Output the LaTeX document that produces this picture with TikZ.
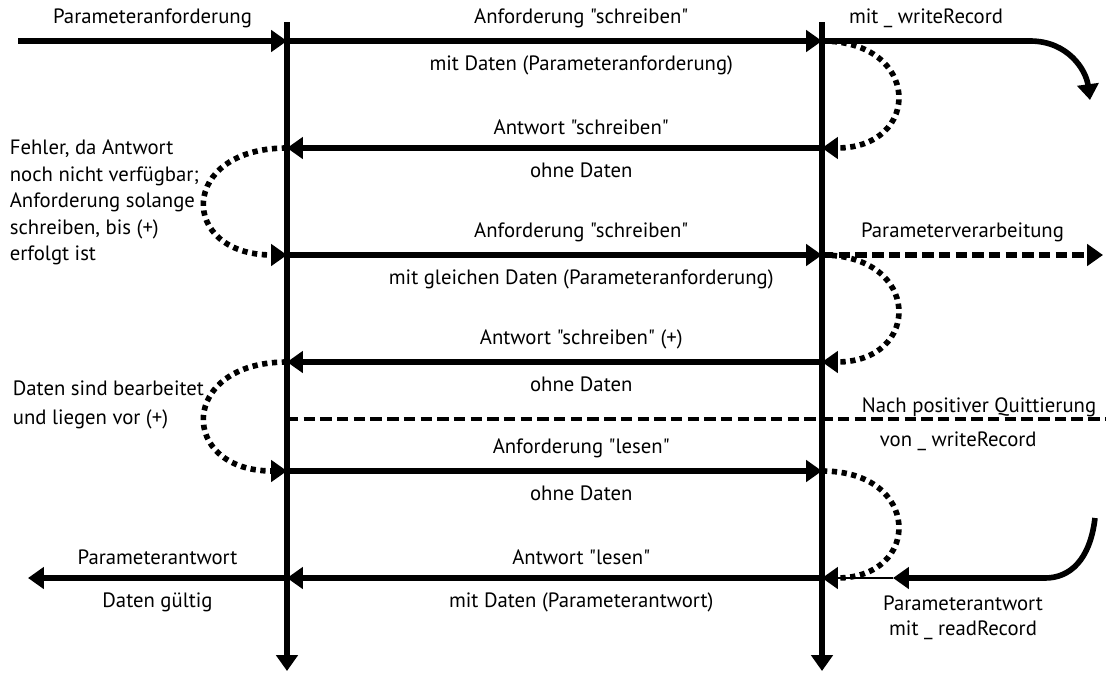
\documentclass[tikz,border=0pt]{standalone}
\usepackage{fontspec}
\setmainfont{PT Sans}[Ligatures=TeXOff]
\usetikzlibrary{arrows.meta}

\begin{document}
\begin{tikzpicture}[
  x=0.02cm, y=-0.02cm,
  txt/.style={font=\fontsize{11.8}{14}\selectfont, inner sep=2pt},
  msg/.style={-{Triangle[length=9pt,width=12pt]}, line width=3.2pt},
  loopback/.style={msg, dash pattern=on 3pt off 2.6pt},
  dashline/.style={line width=2.8pt, dash pattern=on 6.5pt off 3pt},
  up/.style={txt, above=4pt},
  down/.style={txt, below=5pt}
]
  \useasboundingbox (0,0) rectangle (1106,673);

  % lifelines
  \coordinate (ltop) at (287,22);
  \coordinate (lbot) at (287,671);
  \coordinate (rtop) at (822,22);
  \coordinate (rbot) at (822,671);
  \draw[msg] (ltop) -- (lbot);
  \draw[msg] (rtop) -- (rbot);

  % message levels
  \foreach \n/\y in {1/41,2/148,3/255,4/362,5/471,6/578}{
    \coordinate (l\n) at (287,\y);
    \coordinate (r\n) at (822,\y);
  }

  % request in
  \coordinate (in) at (18,41);
  \draw[msg] (in) -- node[up]{Parameteranforderung} (l1);

  % messages
  \draw[msg] (l1) -- node[up, pos=.55]{Anforderung "schreiben"}
                     node[down, pos=.55]{mit Daten (Parameteranforderung)} (r1);
  \draw[msg] (r2) -- node[up, pos=.45]{Antwort "schreiben"}
                     node[down, pos=.45]{ohne Daten} (l2);
  \draw[msg] (l3) -- node[up, pos=.55]{Anforderung "schreiben"}
                     node[down, pos=.55]{mit gleichen Daten (Parameteranforderung)} (r3);
  \draw[msg] (r4) -- node[up, pos=.45]{Antwort "schreiben" (+)}
                     node[down, pos=.45]{ohne Daten} (l4);
  \draw[msg] (l5) -- node[up, pos=.55]{Anforderung "lesen"}
                     node[down, pos=.55]{ohne Daten} (r5);
  \draw[msg] (r6) -- node[up, pos=.45]{Antwort "lesen"}
                     node[down, pos=.45]{mit Daten (Parameterantwort)} (l6);

  % answer out
  \coordinate (out) at (28,578);
  \draw[msg] (l6) -- node[up]{Parameterantwort} node[down]{Daten gültig} (out);

  % loops
  \draw[loopback] (r1) .. controls (922,41) and (922,148) .. (r2);
  \draw[loopback] (l2) .. controls (178,148) and (178,255) .. (l3);
  \draw[loopback] (r3) .. controls (922,255) and (922,362) .. (r4);
  \draw[loopback] (l4) .. controls (178,362) and (178,471) .. (l5);
  \draw[loopback] (r5) .. controls (922,471) and (922,578) .. (r6);

  % writeRecord
  \coordinate (wr) at (1030,41);
  \coordinate (wrend) at (1090,100);
  \draw[msg] (r1) -- node[up]{mit \_ writeRecord} (wr)
    .. controls (1068,41) and (1086,70) .. (wrend);

  % processing
  \coordinate (pv) at (1103,255);
  \draw[msg, dash pattern=on 6.5pt off 3pt] (r3) -- node[up]{Parameterverarbeitung} (pv);

  % acknowledgement
  \coordinate (lq) at (287,419);
  \coordinate (rq) at (1106,419);
  \draw[dashline] (lq) -- (rq);
  \node[txt, anchor=west] (ack) at (858,407) {Nach positiver Quittierung};
  \node[txt, anchor=west] (ackrec) at (876,441) {von \_ writeRecord};

  % readRecord
  \coordinate (rr) at (1095,518);
  \coordinate (rrk) at (1045,578);
  \coordinate (rrtip) at (893,578);
  \draw[msg] (rr) .. controls (1090,560) and (1070,578) .. (rrk) -- (rrtip);
  \draw[line width=1.6pt] (rrtip) -- (r6);
  \node[txt, align=center, font=\fontsize{11.8}{14.2}\selectfont] (readrec) at (963,618)
    {Parameterantwort\\mit \_ readRecord};

  % notes
  \node[txt, align=left, anchor=north west, font=\fontsize{11.8}{15.1}\selectfont] (fehler)
    at (6,136) {Fehler, da Antwort\\noch nicht verfügbar;\\Anforderung solange\\schreiben, bis (+)\\erfolgt ist};
  \node[txt, align=left, anchor=north west, font=\fontsize{11.8}{16.4}\selectfont] (daten)
    at (9,377) {Daten sind bearbeitet\\und liegen vor (+)};
\end{tikzpicture}
\end{document}
